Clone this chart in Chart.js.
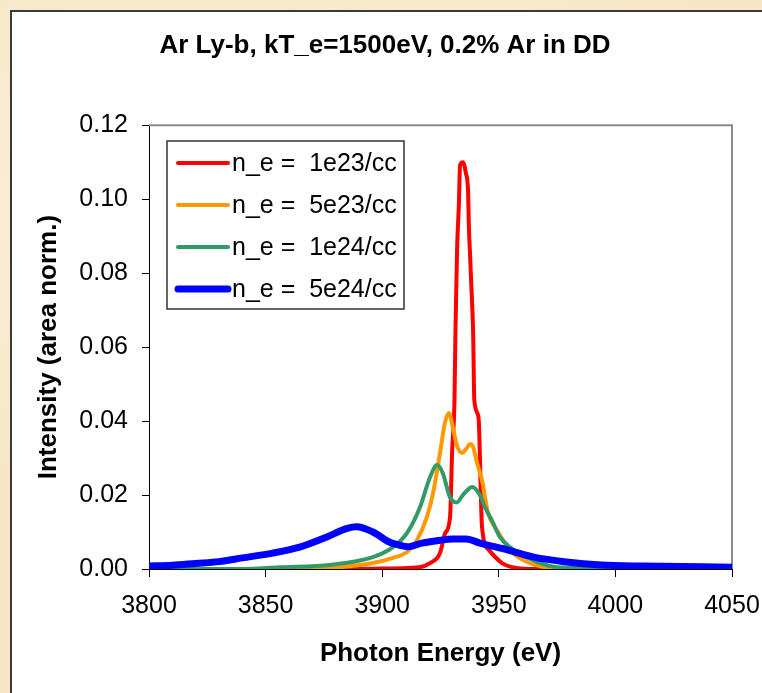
<!DOCTYPE html>
<html lang="en">
<head>
    <meta charset="UTF-8">
    <title>Ar Ly-b line profiles</title>
    <script src="https://cdn.jsdelivr.net/npm/chart.js"></script>
    <style>
        html, body {
            margin: 0;
            padding: 0;
        }
        body {
            width: 762px;
            height: 693px;
            overflow: hidden;
            position: relative;
            background-color: #f6e6c6;
            background-image:
                radial-gradient(circle at 20% 30%, rgba(255, 248, 230, 0.7) 0, rgba(255, 248, 230, 0) 40%),
                radial-gradient(circle at 80% 70%, rgba(235, 210, 165, 0.5) 0, rgba(235, 210, 165, 0) 45%),
                radial-gradient(circle at 60% 10%, rgba(250, 236, 205, 0.8) 0, rgba(250, 236, 205, 0) 35%);
        }
        .panel {
            position: absolute;
            left: 10px;
            top: 10px;
            width: 800px;
            height: 720px;
            background: #fff;
            border-left: 2px solid #3a3a3a;
            border-top: 2px solid #3a3a3a;
        }
        #chart {
            position: absolute;
            left: 0;
            top: 0;
        }
    </style>
</head>
<body>
    <div class="panel"></div>
    <canvas id="chart" width="762" height="693"></canvas>
    <script>
        // photon energy (eV) / intensity
        const redE = [3800, 3880, 3896, 3916, 3920.5, 3924.8, 3927, 3929.1, 3930, 3931, 3931.4, 3932.1, 3932.9, 3933.4, 3934.6, 3935.9, 3936.8, 3937.2, 3937.6, 3938.2, 3939, 3939.5, 3941.3, 3942.8, 3945.8, 3951.4, 3955.7, 3963, 4050];
        const redI = [0, 0, 0.0001, 0.0005, 0.0016, 0.0043, 0.0097, 0.0141, 0.032, 0.0457, 0.0638, 0.0862, 0.0989, 0.1092, 0.110, 0.107, 0.1024, 0.092, 0.086, 0.077, 0.0638, 0.0457, 0.041, 0.0113, 0.0051, 0.0016, 0.0005, 0, 0];

        const orangeE = [3800, 3870, 3879, 3896, 3904.6, 3910.6, 3914.9, 3919.2, 3921.8, 3924.8, 3926.9, 3928.6, 3930.4, 3932, 3934.2, 3936.4, 3937.6, 3939, 3940.7, 3942.8, 3945.4, 3949.2, 3954.8, 3962.1, 3972, 3985, 4050];
        const orangeI = [0, 0, 0.0003, 0.0016, 0.003, 0.0046, 0.0078, 0.0141, 0.0205, 0.0314, 0.0395, 0.0422, 0.038, 0.0335, 0.0314, 0.0328, 0.0338, 0.033, 0.0286, 0.024, 0.0151, 0.0105, 0.0051, 0.0019, 0.0003, 0, 0];

        const greenE = [3800, 3840, 3856, 3877.6, 3896, 3904.6, 3910.6, 3916.2, 3920.5, 3923.5, 3926, 3929, 3932, 3934.6, 3938.5, 3941.9, 3944, 3947, 3950.5, 3954.8, 3962, 3967.7, 3975, 3989, 4010, 4050];
        const greenI = [0, 0, 0.0005, 0.0011, 0.0032, 0.0059, 0.0097, 0.0167, 0.0248, 0.0281, 0.0259, 0.0195, 0.018, 0.02, 0.0222, 0.02, 0.0168, 0.0132, 0.0086, 0.0059, 0.0032, 0.0016, 0.0005, 0.0003, 0.0001, 0];

        const blueE = [3800, 3810, 3820, 3830, 3840, 3853, 3865, 3876, 3885, 3889, 3896, 3903, 3907, 3911, 3917, 3925, 3930, 3936, 3942, 3954, 3965, 3979, 3994, 4011, 4050];
        const blueI = [0.0008, 0.001, 0.0015, 0.002, 0.003, 0.0043, 0.006, 0.0086, 0.011, 0.0114, 0.01, 0.0073, 0.0065, 0.006, 0.007, 0.0078, 0.0081, 0.0081, 0.007, 0.0051, 0.0032, 0.0019, 0.0011, 0.0008, 0.0005];

        const seriesLabels = ['n_e =  1e23/cc', 'n_e =  5e23/cc', 'n_e =  1e24/cc', 'n_e =  5e24/cc'];
        const xTicks = [3800, 3850, 3900, 3950, 4000, 4050];
        const yTicks = [0, 0.02, 0.04, 0.06, 0.08, 0.10, 0.12];

        const FONT = "'Liberation Sans', Arial, sans-serif";

        const toPoints = (xs, ys) => xs.map((x, i) => ({ x: x, y: ys[i] }));

        // legend drawn inside the plot, Excel style
        const boxLegend = {
            id: 'boxLegend',
            afterDraw(chart) {
                const ctx = chart.ctx;
                const left = 167, top = 141, w = 237, h = 168;
                ctx.save();
                ctx.fillStyle = '#fff';
                ctx.fillRect(left, top, w, h);
                ctx.strokeStyle = '#333';
                ctx.lineWidth = 1.5;
                ctx.strokeRect(left, top, w, h);
                ctx.font = '25px ' + FONT;
                ctx.textBaseline = 'middle';
                ctx.fillStyle = '#000';
                chart.data.datasets.forEach((ds, i) => {
                    const y = top + 22 + i * 42;
                    ctx.strokeStyle = ds.borderColor;
                    ctx.lineWidth = ds.borderWidth;
                    ctx.lineCap = 'round';
                    ctx.beginPath();
                    ctx.moveTo(left + 11, y);
                    ctx.lineTo(left + 61, y);
                    ctx.stroke();
                    ctx.fillText(ds.label, left + 65, y + 1);
                });
                ctx.restore();
            }
        };

        // grey frame on the top and right of the plot area
        const areaFrame = {
            id: 'areaFrame',
            beforeDatasetsDraw(chart) {
                const a = chart.chartArea;
                const ctx = chart.ctx;
                ctx.save();
                ctx.strokeStyle = '#8a8a8a';
                ctx.lineWidth = 2;
                ctx.beginPath();
                ctx.moveTo(a.left, a.top);
                ctx.lineTo(a.right, a.top);
                ctx.lineTo(a.right, a.bottom);
                ctx.stroke();
                ctx.restore();
            }
        };

        new Chart(document.getElementById('chart'), {
            type: 'line',
            data: {
                datasets: [
                    { label: seriesLabels[0], data: toPoints(redE, redI), borderColor: '#ff0000', borderWidth: 4, order: 4 },
                    { label: seriesLabels[1], data: toPoints(orangeE, orangeI), borderColor: '#ff9900', borderWidth: 4, order: 3 },
                    { label: seriesLabels[2], data: toPoints(greenE, greenI), borderColor: '#339966', borderWidth: 4, order: 2 },
                    { label: seriesLabels[3], data: toPoints(blueE, blueI), borderColor: '#0000ff', borderWidth: 7, order: 1 }
                ]
            },
            options: {
                responsive: false,
                animation: false,
                layout: { padding: { left: 26, right: 18, top: 0, bottom: 0 } },
                elements: {
                    point: { radius: 0 },
                    line: { cubicInterpolationMode: 'monotone', borderCapStyle: 'round', borderJoinStyle: 'round' }
                },
                plugins: {
                    legend: { display: false },
                    tooltip: { enabled: false },
                    title: {
                        display: true,
                        text: 'Ar Ly-b, kT_e=1500eV, 0.2% Ar in DD',
                        color: '#000',
                        font: { family: FONT, size: 26, weight: 'bold' },
                        padding: { top: 30, bottom: 64 }
                    }
                },
                scales: {
                    x: {
                        type: 'linear',
                        min: 3800,
                        max: 4050,
                        afterFit(scale) {
                            scale.height = 124;
                            scale.paddingRight = 30;
                        },
                        afterBuildTicks(scale) { scale.ticks = xTicks.map(v => ({ value: v })); },
                        grid: { drawOnChartArea: false, tickLength: 8, color: '#000', lineWidth: 1 },
                        border: { color: '#000', width: 1 },
                        ticks: {
                            color: '#000',
                            padding: 14,
                            maxRotation: 0,
                            font: { family: FONT, size: 25 },
                            callback: v => String(v)
                        },
                        title: {
                            display: true,
                            text: 'Photon Energy (eV)',
                            color: '#000',
                            font: { family: FONT, size: 26, weight: 'bold' },
                            padding: { top: 0, bottom: 24 }
                        }
                    },
                    y: {
                        min: 0,
                        max: 0.12,
                        afterFit(scale) { scale.width = 123; },
                        afterBuildTicks(scale) { scale.ticks = yTicks.map(v => ({ value: v })); },
                        grid: { drawOnChartArea: false, tickLength: 7, color: '#000', lineWidth: 1 },
                        border: { color: '#000', width: 1 },
                        ticks: {
                            color: '#000',
                            padding: 14,
                            font: { family: FONT, size: 25 },
                            callback: v => v.toFixed(2)
                        },
                        title: {
                            display: true,
                            text: 'Intensity (area norm.)',
                            color: '#000',
                            font: { family: FONT, size: 26, weight: 'bold' },
                            padding: { top: 7, bottom: 0 }
                        }
                    }
                }
            },
            plugins: [areaFrame, boxLegend]
        });
    </script>
</body>
</html>
